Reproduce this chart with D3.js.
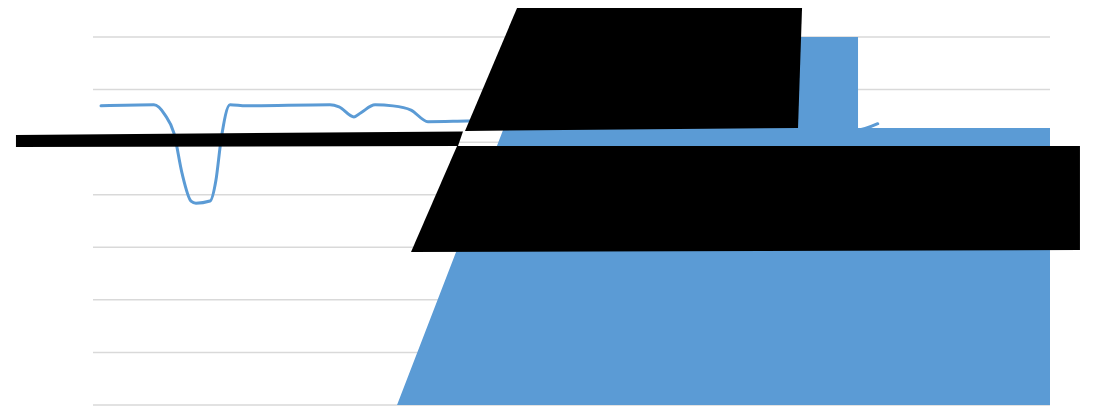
<!DOCTYPE html>
<html>
<head>
<meta charset="utf-8">
<script src="https://cdn.jsdelivr.net/npm/d3@7/dist/d3.min.js"></script>
<style>
  html, body { margin: 0; padding: 0; background: #fff; }
  svg { display: block; }
</style>
</head>
<body>
<svg id="chart" width="1096" height="409"></svg>
<script>
// ---- data (x in category units 0..100, y in value units 0..7) ----
const yTicks = [0, 1, 2, 3, 4, 5, 6, 7];

const lineX = [0.84, 6.37, 7.52, 8.46, 9.30, 10.24, 10.76, 12.23, 12.85, 13.38, 14.32, 15.99,
               24.76, 25.71, 27.27, 28.0, 29.47, 31.35, 33.23, 35.0, 39.08,
               50, 60, 70, 77, 79.6, 82.0];
const lineY = [5.69, 5.71, 5.52, 5.17, 4.41, 3.88, 3.84, 3.88, 4.28, 5.04, 5.71, 5.69,
               5.71, 5.67, 5.48, 5.56, 5.71, 5.69, 5.61, 5.39, 5.40,
               5.42, 5.40, 5.38, 5.30, 5.22, 5.35];

const areaX = [31.77, 46.6, 79.94, 79.94, 100];
const areaY = [0, 7, 7, 5.27, 5.27];

// overlay shapes (black), in the same data units
const barShape   = [[-8.05, 5.136], [38.66, 5.203], [38.14, 4.927], [-8.05, 4.908]];
const upperShape = [[44.31, 7.552], [74.09, 7.552], [73.67, 5.269], [38.87, 5.212]];
const lowerShape = [[38.04, 4.927], [103.13, 4.927], [103.13, 2.948], [33.23, 2.910]];

// ---- scales ----
const x = d3.scaleLinear().domain([0, 100]).range([93, 1050]);
const y = d3.scaleLinear().domain([0, 7]).range([405, 37]);

const svg = d3.select("#chart");
const blue = "#5B9BD5";

// gridlines
svg.append("g")
  .selectAll("line")
  .data(yTicks)
  .join("line")
  .attr("x1", x(0)).attr("x2", x(100))
  .attr("y1", d => y(d)).attr("y2", d => y(d))
  .attr("stroke", "#D9D9D9")
  .attr("stroke-width", 1.5);

// line series
const linePts = lineX.map((v, i) => [v, lineY[i]]);
svg.append("path")
  .datum(linePts)
  .attr("fill", "none")
  .attr("stroke", blue)
  .attr("stroke-width", 3)
  .attr("stroke-linecap", "round")
  .attr("stroke-linejoin", "round")
  .attr("d", d3.line().x(d => x(d[0])).y(d => y(d[1])).curve(d3.curveMonotoneX));

// area series
const areaPts = areaX.map((v, i) => [v, areaY[i]]);
svg.append("path")
  .datum(areaPts)
  .attr("fill", blue)
  .attr("d", d3.area().x(d => x(d[0])).y0(y(0)).y1(d => y(d[1])).curve(d3.curveLinear));

// black overlay shapes
const poly = d3.line().x(d => x(d[0])).y(d => y(d[1]));
svg.append("g")
  .selectAll("path")
  .data([barShape, upperShape, lowerShape])
  .join("path")
  .attr("fill", "#000")
  .attr("d", d => poly(d) + "Z");
</script>
</body>
</html>
